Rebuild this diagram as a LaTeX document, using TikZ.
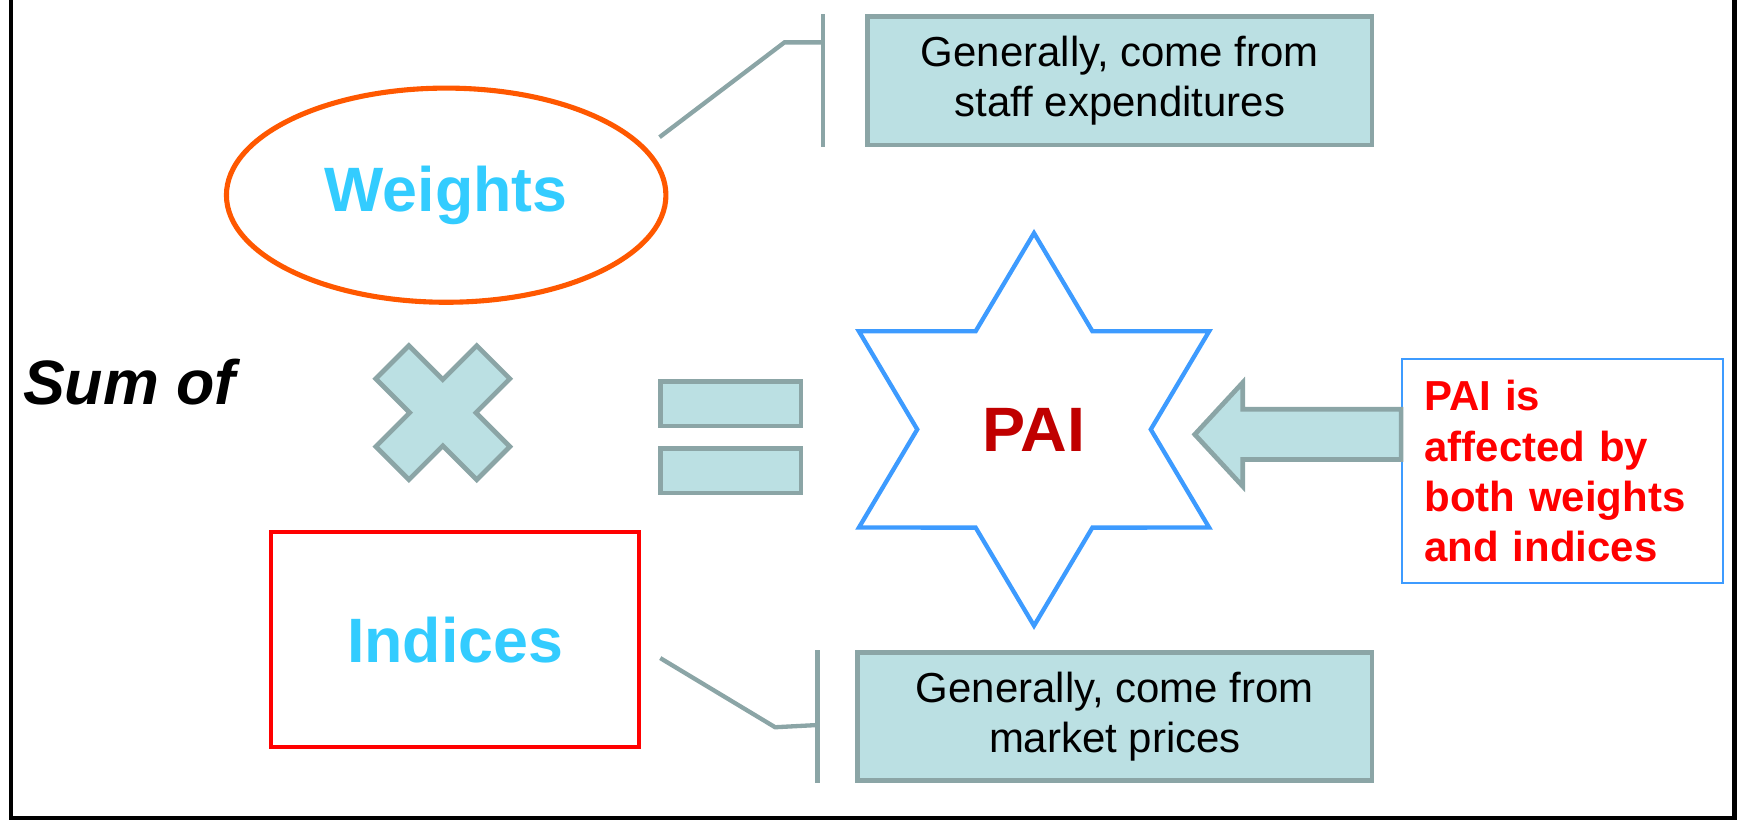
\documentclass[tikz,border=0pt]{standalone}
\usepackage{fontspec}
\setmainfont{Liberation Sans}
\usepackage{xcolor}
\usetikzlibrary{shapes.geometric, positioning, calc}

\definecolor{boxfill}{RGB}{187,224,227}
\definecolor{boxline}{RGB}{139,165,166}
\definecolor{wordcyan}{RGB}{51,204,255}
\definecolor{starblue}{RGB}{61,155,255}
\definecolor{paired}{RGB}{192,0,0}
\definecolor{ovalorange}{RGB}{255,88,0}

\tikzset{
  callout/.style={draw=boxline, fill=boxfill, line width=1.2pt, minimum height=1.15cm,
    align=center, font=\fontsize{10.7}{12.8}\selectfont},
  link/.style={draw=boxline, line width=1.1pt},
  sign/.style={draw=boxline, fill=boxfill, line width=1.2pt},
  factor/.style={text=wordcyan, font=\fontsize{16}{19}\selectfont\bfseries}
}

\begin{document}
\begin{tikzpicture}
  \useasboundingbox (0,0) rectangle (15.68,7.37);
  % frame, top edge is cut off
  \draw[line width=1.1pt] (0.10,7.6) -- (0.10,0.035) -- (15.55,0.035) -- (15.55,7.6);

  \node[ellipse, draw=ovalorange, line width=1.3pt, minimum width=3.94cm, minimum height=1.92cm, factor] (weights) at (4.00,5.62) {Weights};
  \node[draw=red, line width=1.1pt, minimum width=3.30cm, minimum height=1.93cm, factor] (indices) at (4.08,1.635) {Indices};
  \node[callout, minimum width=4.52cm] (staff) at (10.04,6.645) {Generally, come from\\staff expenditures};
  \node[callout, minimum width=4.61cm] (market) at (9.995,0.945) {Generally, come from\\market prices};
  \node[anchor=west, inner sep=0pt, font=\fontsize{16}{19}\selectfont\bfseries\itshape] (sum) at (0.20,3.94) {Sum of};
  \node[star, star points=6, star point ratio=1.732, minimum size=3.52cm, inner sep=0pt, xscale=1.03, transform shape,
    draw=starblue, line width=1.1pt, text=paired, font=\fontsize{16}{19}\selectfont\bfseries] (pai) at (9.27,3.52) {PAI};
  \node[draw=starblue, line width=0.5pt, minimum width=2.88cm, minimum height=2.01cm, text width=2.48cm,
    align=left, text=red, font=\fontsize{10.7}{12.8}\selectfont\bfseries] (note) at (14.01,3.145) {PAI is\\affected by\\both weights\\and indices};

  % brackets beside the two callouts
  \coordinate (b1) at ($(staff.west)+(-0.38,0)$);
  \coordinate (b2) at ($(market.west)+(-0.34,0)$);
  \draw[link] (b1 |- staff.north) -- (b1 |- staff.south);
  \draw[link] (b2 |- market.north) -- (b2 |- market.south);
  \draw[link] ($(weights.east)+(-0.08,0.52)$) -- ++(1.12,0.85) coordinate (k1) -- (b1 |- k1);
  \draw[link] ($(indices.east)+(0.17,-0.165)$) -- ++(1.03,-0.62) coordinate (k2) -- ($(b2 |- k2)+(0,0.02)$);

  % times sign
  \draw[sign, shift={(3.97,3.67)}, rotate=45] (0.21,0.21) -- (0.21,0.64) -- (-0.21,0.64) -- (-0.21,0.21)
    -- (-0.64,0.21) -- (-0.64,-0.21) -- (-0.21,-0.21) -- (-0.21,-0.64) -- (0.21,-0.64) -- (0.21,-0.21)
    -- (0.64,-0.21) -- (0.64,0.21) -- cycle;
  % equals sign
  \node[sign, minimum width=1.26cm, minimum height=0.40cm] (eqtop) at (6.55,3.75) {};
  \node[sign, minimum width=1.26cm, minimum height=0.40cm] (eqbot) at (6.55,3.15) {};

  % block arrow into the star
  \coordinate (tip) at ($(note.west)+(-1.85,0.33)$);
  \draw[sign] (tip) -- ++(0.43,0.465) -- ++(0,-0.24) -- ++(1.42,0) -- ++(0,-0.45) -- ++(-1.42,0) -- ++(0,-0.24) -- cycle;
\end{tikzpicture}
\end{document}
